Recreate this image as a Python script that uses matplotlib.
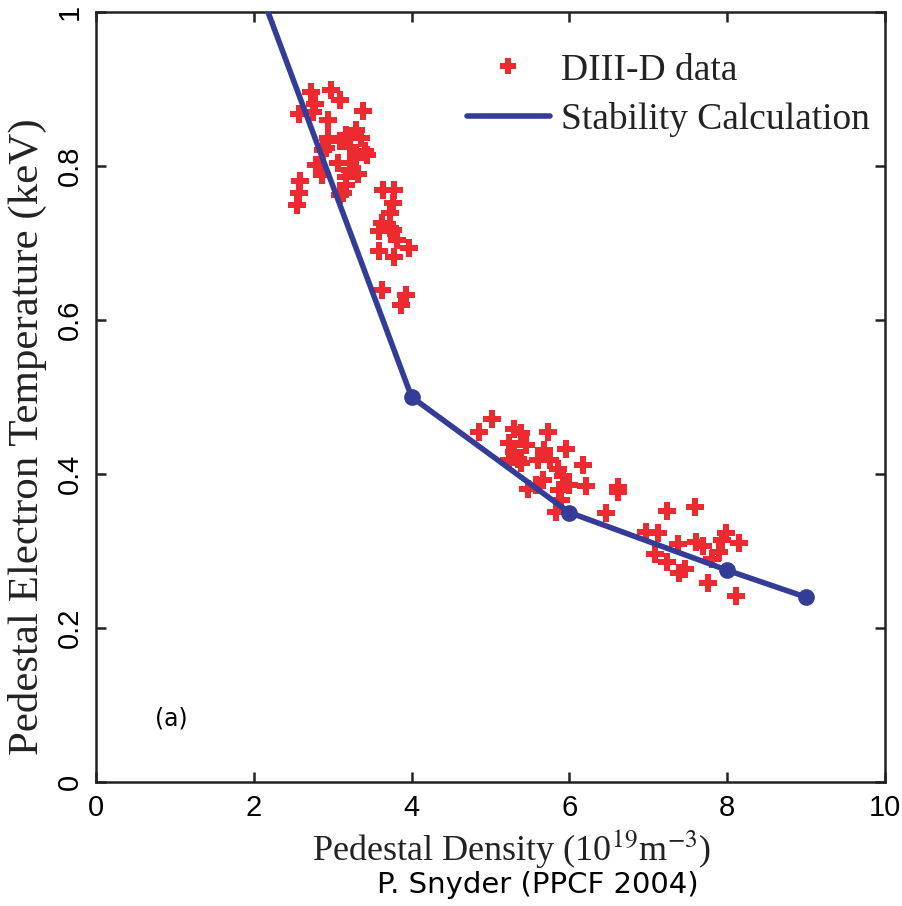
import matplotlib
matplotlib.use("Agg")
import matplotlib.pyplot as plt
from matplotlib.lines import Line2D

upper_n = [2.72, 2.98, 3.09, 2.77, 2.75, 2.57, 3.38, 2.94, 3.30, 3.17, 2.94, 3.36,
           3.22, 2.92, 3.41, 3.09, 3.30, 2.81, 3.07, 3.22, 3.32, 2.86, 3.17, 3.17,
           2.58, 2.57, 3.13, 2.55, 3.09, 2.79, 2.88, 3.43]
upper_te = [0.896, 0.899, 0.886, 0.881, 0.870, 0.867, 0.872, 0.860, 0.847, 0.840, 0.836, 0.836,
            0.825, 0.823, 0.819, 0.832, 0.810, 0.801, 0.804, 0.795, 0.790, 0.788, 0.786, 0.775,
            0.780, 0.765, 0.765, 0.749, 0.762, 0.801, 0.821, 0.814]

mid_n = [3.64, 3.78, 3.76, 3.72, 3.62, 3.76, 3.59, 3.81, 3.97, 3.59, 3.78, 3.62,
         3.93, 3.87, 3.72]
mid_te = [0.769, 0.769, 0.752, 0.739, 0.726, 0.717, 0.715, 0.704, 0.693, 0.689, 0.682, 0.639,
          0.632, 0.619, 0.720]

lower_n = [5.02, 4.85, 5.30, 5.39, 5.73, 5.24, 5.45, 5.96, 5.68, 5.30, 5.35, 5.60,
           5.75, 5.24, 6.17, 5.39, 5.85, 5.92, 5.66, 5.58, 6.00, 6.21, 6.61, 5.47,
           5.87, 5.89, 6.46, 5.83, 6.61,
           7.24, 7.59, 6.97, 7.12, 7.38, 7.60, 7.69, 7.98, 7.94, 8.15, 7.90, 7.08,
           7.24, 7.47, 7.39, 7.76, 8.11, 7.81]
lower_te = [0.472, 0.455, 0.458, 0.453, 0.455, 0.440, 0.438, 0.432, 0.431, 0.429, 0.420, 0.418,
            0.418, 0.418, 0.412, 0.414, 0.407, 0.397, 0.392, 0.386, 0.386, 0.384, 0.383, 0.381,
            0.379, 0.366, 0.349, 0.351, 0.377,
            0.352, 0.357, 0.325, 0.323, 0.309, 0.312, 0.306, 0.323, 0.314, 0.310, 0.299, 0.296,
            0.286, 0.276, 0.271, 0.258, 0.241, 0.290]

data_n = upper_n + mid_n + lower_n
data_te = upper_te + mid_te + lower_te

# stability calculation curve
calc_n = [2.18, 4.0, 6.0, 8.0, 9.0]
calc_te = [1.0, 0.50, 0.35, 0.275, 0.24]

xticks = [0, 2, 4, 6, 8, 10]
yticks = [0, 0.2, 0.4, 0.6, 0.8, 1]
ytick_labels = ["0", "0.2", "0.4", "0.6", "0.8", "1"]

red = "#EC2A2F"
blue = "#333C96"
ink = "#222222"

plt.rcParams["mathtext.fontset"] = "stix"

fig = plt.figure(figsize=(9.03, 9.06), dpi=100)
ax = fig.add_axes([96 / 903, 1 - 782 / 906, 789 / 903, 770 / 906])

ax.plot(data_n, data_te, linestyle="none", marker="P", markersize=13,
        color=red, markeredgewidth=0, zorder=2)
ax.plot(calc_n, calc_te, color=blue, linewidth=4, marker="o", markersize=11,
        markevery=[1, 2, 3, 4], zorder=3)

ax.set_xlim(0, 10)
ax.set_ylim(0, 1)
ax.set_xticks(xticks)
ax.set_yticks(yticks)
ax.set_yticklabels(ytick_labels, rotation=90, va="center")

for s in ax.spines.values():
    s.set_linewidth(1.8)
    s.set_color(ink)
ax.tick_params(direction="in", length=7, width=1.8, top=True, right=True,
               labelsize=21, pad=9, color=ink)
for lab in ax.get_xticklabels() + ax.get_yticklabels():
    lab.set_family("Liberation Sans")

ax.set_xlabel("Pedestal Density (10$^{19}$m$^{-3}$)", family="Liberation Serif",
              fontsize=26, color=ink)
ax.xaxis.set_label_coords(0.527, -0.058)
ax.set_ylabel("Pedestal Electron Temperature (keV)", family="Liberation Serif",
              fontsize=31, color=ink)
ax.yaxis.set_label_coords(-0.062, 0.449)

ax.text(0.96, 0.083, "(a)", family="DejaVu Sans", fontsize=17, ha="center", va="center")

handles = [Line2D([], [], linestyle="none", marker="P", markersize=11,
                  color=red, markeredgewidth=0),
           Line2D([], [], color=blue, linewidth=4, solid_capstyle="round")]
leg = ax.legend(handles, ["DIII-D data", "Stability Calculation"],
                loc="upper left", bbox_to_anchor=(467 / 903, 1 - 53 / 906),
                bbox_transform=fig.transFigure, frameon=False,
                prop={"family": "Liberation Serif", "size": 27},
                handlelength=2.2, handletextpad=0.3, labelspacing=0.38,
                borderpad=0, borderaxespad=0)
for t in leg.get_texts():
    t.set_color(ink)

fig.text(538 / 903, 1 - 885 / 906, "P. Snyder (PPCF 2004)", family="DejaVu Sans",
         fontsize=21, ha="center", va="center", color="black")

fig.savefig("out.png", dpi=100)
